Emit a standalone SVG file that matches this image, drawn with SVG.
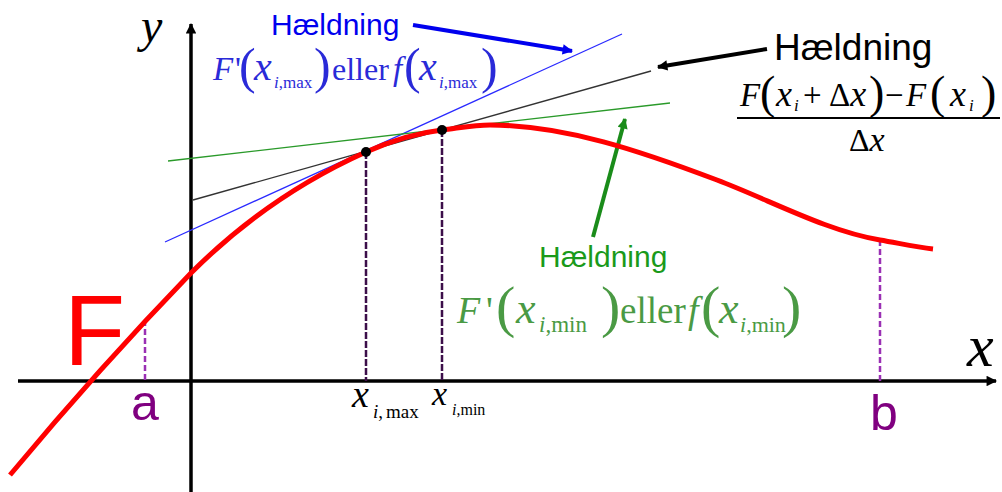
<svg xmlns="http://www.w3.org/2000/svg" width="1002" height="492" viewBox="0 0 1002 492">
<style>
.ser{font-family:"Liberation Serif","Times New Roman",serif}
.it{font-style:italic}
.sans{font-family:"Liberation Sans",Arial,sans-serif}
.blue{fill:#2a2ad8}
.green{fill:#4a9a44}
.ax{stroke:#000;stroke-width:3.5;fill:none}
.dashd{stroke:#3c0f4a;stroke-width:2.5;stroke-dasharray:7 2;fill:none}
.dashp{stroke:#9a30b4;stroke-width:2.5;stroke-dasharray:6 3;fill:none}
</style>
<defs>
<marker id="ahb" viewBox="0 0 10 10" refX="9" refY="5" markerWidth="3" markerHeight="2.6" orient="auto" markerUnits="strokeWidth"><path d="M0,0 L10,5 L0,10 z" fill="#0000ee"/></marker>
<marker id="ahk" viewBox="0 0 10 10" refX="9" refY="5" markerWidth="3" markerHeight="2.6" orient="auto" markerUnits="strokeWidth"><path d="M0,0 L10,5 L0,10 z" fill="#000"/></marker>
<marker id="ahg" viewBox="0 0 10 10" refX="9" refY="5" markerWidth="3" markerHeight="2.6" orient="auto" markerUnits="strokeWidth"><path d="M0,0 L10,5 L0,10 z" fill="#1a8c1a"/></marker>
<marker id="ahx" viewBox="0 0 10 10" refX="9" refY="5" markerWidth="4" markerHeight="3" orient="auto" markerUnits="strokeWidth"><path d="M0,0 L10,5 L0,10 z" fill="#000"/></marker>
</defs>

<g id="axes">
<line class="ax" x1="18" y1="381" x2="996" y2="381" marker-end="url(#ahx)"/>
<line class="ax" x1="191" y1="492" x2="191" y2="24" marker-end="url(#ahx)"/>
<text class="ser it" x="141" y="42" font-size="48">y</text>
<text class="ser it" x="967" y="366" font-size="60">x</text>
</g>

<g id="connectors">
<line x1="165" y1="242" x2="622" y2="34" stroke="#2a2aff" stroke-width="1.3"/>
<line x1="193" y1="200" x2="651" y2="71" stroke="#333" stroke-width="1.3"/>
<line x1="168" y1="161" x2="670" y2="103" stroke="#2a9a2a" stroke-width="1.3"/>
<line x1="413" y1="25" x2="572" y2="51" stroke="#0000ee" stroke-width="4" marker-end="url(#ahb)"/>
<line x1="767" y1="49" x2="658" y2="67" stroke="#000" stroke-width="4" marker-end="url(#ahk)"/>
<line x1="593" y1="237" x2="625" y2="119" stroke="#1a8c1a" stroke-width="4" marker-end="url(#ahg)"/>
<line class="dashp" x1="145" y1="320" x2="145" y2="381"/>
<line class="dashp" x1="880" y1="240" x2="880" y2="381"/>
<line class="dashd" x1="366" y1="152" x2="366" y2="381"/>
<line class="dashd" x1="442" y1="130" x2="442" y2="381"/>
</g>

<g id="curve">
<path d="M10,475 C70,403 131,335 191,273 C249,215 308,178 366,152 C391,140.8 417,132.9 442,130 C458,128.2 474,125 490,125 C565,125 642,151.5 717,180 C771,200.5 826,230.8 880,240 C898,243 915,247 933,249" stroke="#ff0000" stroke-width="5" fill="none"/>
<text class="sans" x="64" y="365" font-size="100" fill="#ff0000">F</text>
</g>

<g id="points">
<circle cx="366" cy="152" r="5" fill="#000"/>
<circle cx="442" cy="130" r="5" fill="#000"/>
</g>

<g id="label-a"><text class="sans" x="131" y="420" font-size="50" fill="#800080">a</text></g>
<g id="label-b"><text class="sans" x="870" y="430" font-size="50" fill="#800080">b</text></g>

<g id="label-xmax" class="ser">
<text x="352" y="407" font-size="38" class="it">x</text>
<text x="373" y="418" font-size="19"><tspan class="it">i</tspan>,<tspan dx="3">max</tspan></text>
</g>
<g id="label-xmin" class="ser">
<text x="432" y="405" font-size="34" class="it">x</text>
<text x="452" y="415" font-size="16"><tspan class="it">i</tspan>,min</text>
</g>

<g id="blue-label">
<text class="sans" x="271" y="35" font-size="30" fill="#0000ee">Hældning</text>
<g class="ser blue">
<text x="213" y="80" font-size="33" class="it">F</text>
<text x="235" y="80" font-size="33">'</text>
<text x="239" y="83" font-size="50">(</text>
<text x="254" y="80" font-size="40" class="it">x</text>
<text x="274" y="88" font-size="17"><tspan class="it">i</tspan>,max</text>
<text x="314" y="83" font-size="50">)</text>
<text x="332" y="80" font-size="32">eller</text>
<text x="393" y="80" font-size="33" class="it">f</text>
<text x="404" y="83" font-size="50">(</text>
<text x="419" y="80" font-size="40" class="it">x</text>
<text x="439" y="88" font-size="17"><tspan class="it">i</tspan>,max</text>
<text x="481" y="83" font-size="50">)</text>
</g>
</g>

<g id="black-label">
<text class="sans" x="774" y="60" font-size="37" fill="#000">Hældning</text>
<g class="ser" fill="#000">
<text x="740" y="106" font-size="33" class="it">F</text>
<text x="760" y="108" font-size="46">(</text>
<text x="776" y="106" font-size="36" class="it">x</text>
<text x="794" y="111" font-size="17" class="it">i</text>
<text x="803" y="106" font-size="33">+</text>
<text x="829" y="106" font-size="33">Δ<tspan class="it" font-size="36">x</tspan></text>
<text x="869" y="108" font-size="46">)</text>
<text x="885" y="106" font-size="33">−</text>
<text x="906" y="106" font-size="33" class="it">F</text>
<text x="930" y="108" font-size="46">(</text>
<text x="950" y="106" font-size="36" class="it">x</text>
<text x="969" y="111" font-size="17" class="it">i</text>
<text x="981" y="108" font-size="46">)</text>
<line x1="737" y1="118" x2="1000" y2="118" stroke="#000" stroke-width="2"/>
<text x="849" y="151" font-size="32">Δ<tspan class="it" font-size="34">x</tspan></text>
</g>
</g>

<g id="green-label">
<text class="sans" x="539" y="267" font-size="30" fill="#1a9a1a">Hældning</text>
<g class="ser green">
<text x="457" y="323" font-size="38" class="it">F</text>
<text x="486" y="323" font-size="38">'</text>
<text x="496" y="326" font-size="58">(</text>
<text x="516" y="323" font-size="44" class="it">x</text>
<text x="539" y="332" font-size="23"><tspan class="it">i</tspan>,min</text>
<text x="601" y="326" font-size="58">)</text>
<text x="620" y="323" font-size="37">eller</text>
<text x="688" y="323" font-size="38" class="it">f</text>
<text x="701" y="326" font-size="58">(</text>
<text x="719" y="323" font-size="44" class="it">x</text>
<text x="740" y="332" font-size="22"><tspan class="it">i</tspan>,min</text>
<text x="782" y="326" font-size="58">)</text>
</g>
</g>
</svg>
